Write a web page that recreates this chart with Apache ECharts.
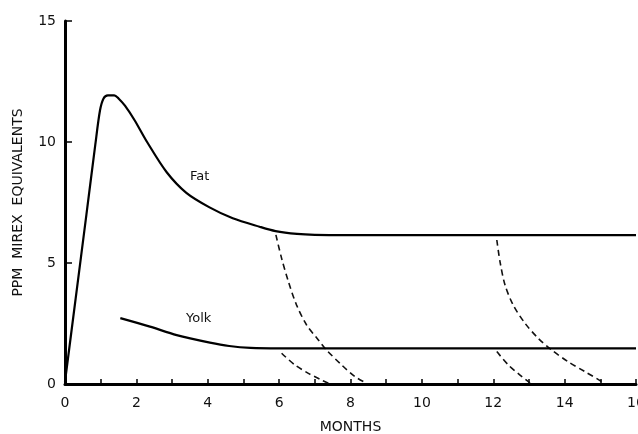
<!DOCTYPE html>
<html>
<head>
<meta charset="utf-8">
<script src="https://cdn.jsdelivr.net/npm/echarts@6/dist/echarts.min.js"></script>
<style>html,body{margin:0;padding:0;background:#fff;}#c{width:638px;height:434px;}</style>
</head>
<body>
<div id="c"></div>
<script>
var fat = [[0,0.1],[0.3,3.55],[0.6,7.0],[0.85,9.9],[0.98,11.3],[1.08,11.8],[1.2,11.93],[1.38,11.93],[1.5,11.8],[1.68,11.5],[1.95,10.9],[2.3,10.0],[2.85,8.75],[3.4,7.9],[4.05,7.3],[4.7,6.85],[5.45,6.5],[5.9,6.32],[6.5,6.2],[7,6.16],[8,6.15],[10,6.15],[12,6.15],[14,6.15],[16,6.15]];
var yolk = [[1.55,2.72],[2.38,2.37],[3.13,2.02],[4.06,1.71],[4.6,1.57],[5.2,1.49],[6,1.47],[8,1.47],[10,1.47],[12,1.47],[14,1.47],[16,1.47]];
var fatDash1 = [[5.91,6.16],[6.07,5.19],[6.26,4.23],[6.49,3.26],[6.77,2.44],[7.1,1.82],[7.33,1.4],[7.75,0.79],[8.13,0.3],[8.45,0.03]];
var fatDash2 = [[12.1,5.95],[12.19,5.05],[12.33,4.09],[12.56,3.26],[12.89,2.51],[13.26,1.89],[13.64,1.4],[14.1,0.92],[14.57,0.51],[15.04,0.1],[15.13,0]];
var yolkDash1 = [[6.07,1.27],[6.44,0.79],[6.82,0.44],[7.14,0.2],[7.38,0.03]];
var yolkDash2 = [[12.1,1.34],[12.42,0.79],[12.75,0.37],[13.03,0.05]];
var xTicks = [0,2,4,6,8,10,12,14,16];
var yTicks = [0,5,10,15];

var FONT = 'DejaVu Sans';
function solid(d){return {type:'line',data:d,smooth:0.3,showSymbol:false,lineStyle:{color:'#000',width:2.2},z:3};}
function dashed(d){return {type:'line',data:d,smooth:0.3,showSymbol:false,lineStyle:{color:'#111',width:1.6,type:[6,4]},z:2};}

var chart = echarts.init(document.getElementById('c'), null, {renderer:'canvas'});
chart.setOption({
  animation:false,
  backgroundColor:'#fff',
  grid:{left:65,right:2,top:21,bottom:50,containLabel:false,outerBoundsMode:'none'},
  xAxis:{type:'value',min:0,max:16,interval:1,
    name:'MONTHS',nameLocation:'middle',nameGap:36,
    nameTextStyle:{fontFamily:FONT,fontSize:14,color:'#111'},
    axisLine:{show:true,lineStyle:{color:'#000',width:3}},
    axisTick:{show:true,inside:true,length:5,lineStyle:{color:'#000',width:1.5}},
    axisLabel:{fontFamily:FONT,fontSize:14,color:'#111',margin:12,
      formatter:function(v){return xTicks.indexOf(v)>=0?String(v):'';}},
    splitLine:{show:false}},
  yAxis:{type:'value',min:0,max:15,interval:5,
    name:'PPM  MIREX  EQUIVALENTS',nameLocation:'middle',nameGap:40,nameRotate:90,
    nameTextStyle:{fontFamily:FONT,fontSize:14,color:'#111'},
    axisLine:{show:true,lineStyle:{color:'#000',width:3}},
    axisTick:{show:true,inside:true,length:7,lineStyle:{color:'#000',width:1.5}},
    axisLabel:{fontFamily:FONT,fontSize:14,color:'#111',margin:9,
      formatter:function(v){return yTicks.indexOf(v)>=0?String(v):'';}},
    splitLine:{show:false}},
  graphic:[
    {type:'text',left:190,top:170,style:{text:'Fat',font:'13px "'+FONT+'"',fill:'#111'}},
    {type:'text',left:186,top:312,style:{text:'Yolk',font:'13px "'+FONT+'"',fill:'#111'}}
  ],
  series:[solid(fat),solid(yolk),dashed(fatDash1),dashed(fatDash2),dashed(yolkDash1),dashed(yolkDash2)]
});
</script>
</body>
</html>
